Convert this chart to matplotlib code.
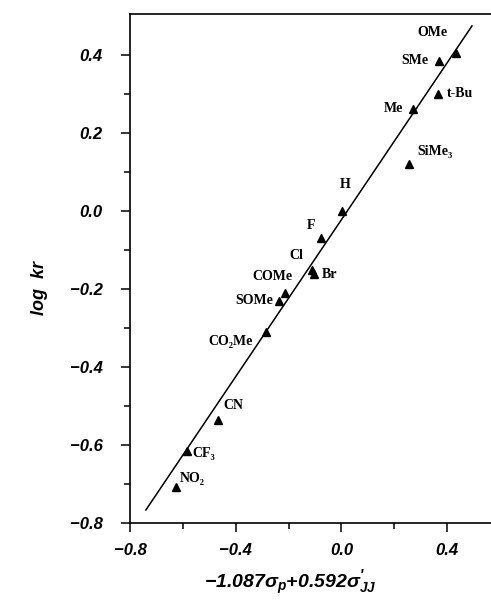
import numpy as np
import matplotlib
matplotlib.use("Agg")
import matplotlib.pyplot as plt

# --- data ---
groups = ["OMe", "SMe", "t-Bu", "Me", "SiMe₃", "H", "F", "Cl", "Br",
          "COMe", "SOMe", "CO₂Me", "CN", "CF₃", "NO₂"]
sigma = [0.434, 0.370, 0.366, 0.272, 0.257, 0.003, -0.079, -0.113, -0.105,
         -0.215, -0.238, -0.287, -0.468, -0.585, -0.626]
log_kr = [0.404, 0.384, 0.300, 0.261, 0.120, 0.000, -0.069, -0.151, -0.161,
          -0.210, -0.230, -0.310, -0.537, -0.616, -0.708]

# label offsets (points) and alignment
offsets = [(-17, 15, "center"), (-8, 0, "right"), (6, 0, "left"), (-7, 0, "right"),
           (6, 9, "left"), (2, 19, "center"), (-7, 9, "center"), (-11, 10, "center"),
           (6, -1, "left"), (-9, 12, "center"), (-4, 0, "right"), (-9, -7, "right"),
           (4, 11, "left"), (4, -2, "left"), (3, 6.5, "left")]

# fitted line
slope = 1.005
intercept = -0.023
fit_x = np.array([-0.74, 0.494])

plt.rcParams['mathtext.fontset'] = 'custom'
plt.rcParams['mathtext.rm'] = 'Liberation Sans:bold:italic'
plt.rcParams['mathtext.it'] = 'Liberation Sans:bold:italic'
plt.rcParams['mathtext.bf'] = 'Liberation Sans:bold:italic'

fig = plt.figure(figsize=(4.91, 6.06), dpi=100)
ax = fig.add_axes([130 / 491, 1 - 523 / 606, 1 - 130 / 491, (523 - 14) / 606])

ax.plot(fit_x, slope * fit_x + intercept, color="black", lw=1.1)
ax.plot(sigma, log_kr, linestyle="none", marker="^", ms=6, color="black")

for g, x, y, (dx, dy, ha) in zip(groups, sigma, log_kr, offsets):
    ax.annotate(g, (x, y), xytext=(dx, dy), textcoords="offset points",
                ha=ha, va="center", fontsize=10, fontweight="bold",
                family=["Liberation Serif", "DejaVu Serif"])

ax.set_xlim(-0.8, 0.566)
ax.set_ylim(-0.8, 0.504)
ax.set_xticks([-0.8, -0.4, 0.0, 0.4])
ax.set_xticks([-0.6, -0.2, 0.2], minor=True)
ax.set_yticks(np.arange(-0.8, 0.41, 0.2))
ax.set_yticks(np.arange(-0.7, 0.41, 0.2), minor=True)
ax.set_xticklabels(["−0.8", "−0.4", "0.0", "0.4"])
ax.set_yticklabels(["−0.8", "−0.6", "−0.4", "−0.2", "0.0", "0.2", "0.4"])

for lab in ax.get_xticklabels() + ax.get_yticklabels():
    lab.set_family("Liberation Sans")
    lab.set_fontweight("bold")
    lab.set_fontstyle("italic")
    lab.set_fontsize(12)

ax.tick_params(axis="both", which="major", direction="out", length=6.5, width=1.1)
ax.tick_params(axis="both", which="minor", direction="out", length=4.5, width=1.1)
ax.tick_params(axis="y", which="major", pad=13)
ax.tick_params(axis="x", which="major", pad=8)
ax.spines["right"].set_visible(False)
for s in ["left", "top", "bottom"]:
    ax.spines[s].set_linewidth(1.2)

fig.text(40 / 491, 1 - 288 / 606, "log  kr", rotation=90, ha="center", va="center",
         fontsize=13, fontweight="bold", fontstyle="italic", family="Liberation Sans")
fig.text(290 / 491, 1 - 583 / 606, r"$-1.087\sigma_p{+}0.592\sigma_{JJ}^{\prime}$",
         ha="center", va="center", fontsize=14)

fig.savefig("out.png", dpi=100)
